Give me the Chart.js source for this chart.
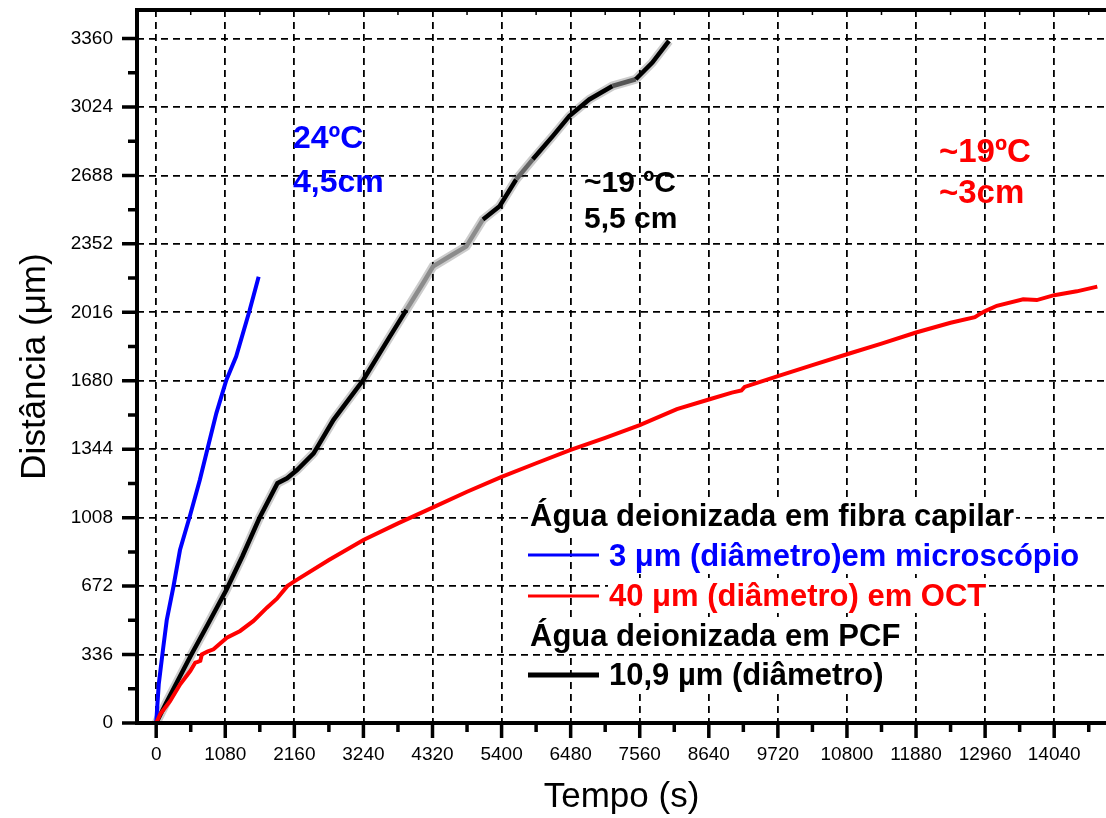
<!DOCTYPE html>
<html>
<head>
<meta charset="utf-8">
<script src="https://cdn.jsdelivr.net/npm/chart.js@4/dist/chart.umd.min.js"></script>
<style>
  html, body { margin: 0; padding: 0; background: #fff; overflow: hidden; }
  canvas { display: block; }
</style>
</head>
<body>
<canvas id="c" width="1106" height="818"></canvas>
<script>
// Time (s) and distance (µm) for each capillary-filling measurement
const blueTime = [0, 40, 110, 165, 270, 372, 527, 682, 785, 940, 1096, 1250, 1457, 1602];
const blueDist = [0, 190, 370, 505, 670, 849, 1016, 1193, 1324, 1520, 1683, 1799, 2021, 2191];

const redTime = [0, 62, 219, 375, 532, 610, 650, 690, 714, 800, 896, 1000, 1105, 1313, 1521, 1731, 1887, 2050, 2160,
  2700, 3240, 3780, 4320, 4860, 5400, 5940, 6480, 7020, 7560, 8141, 8640, 9000, 9150, 9200, 9720, 10260, 10800,
  11340, 11880, 12420, 12800, 12900, 12960, 13143, 13555, 13769, 14040, 14394, 14714];
const redDist = [0, 43, 108, 190, 255, 296, 300, 305, 337, 350, 362, 390, 419, 452, 501, 566, 610, 672, 695,
  800, 898, 980, 1057, 1135, 1208, 1275, 1341, 1400, 1462, 1541, 1588, 1622, 1632, 1650, 1703, 1757, 1810,
  1862, 1917, 1965, 1992, 2012, 2022, 2048, 2080, 2076, 2100, 2119, 2142];

const blackTime = [0, 150, 300, 550, 800, 1096, 1350, 1612, 1896, 2046, 2202, 2461, 2772, 3240, 3655, 3914, 4174,
  4330, 4590, 4849, 5109, 5369, 5628, 5888, 6200, 6459, 6771, 7134, 7498, 7757, 8017];
const blackDist = [0, 95, 185, 336, 480, 653, 820, 1005, 1177, 1201, 1242, 1324, 1488, 1685, 1898, 2029, 2160,
  2242, 2291, 2340, 2472, 2537, 2668, 2767, 2881, 2979, 3061, 3127, 3160, 3242, 3348];

// Axis ticks
const xTickValues = [0, 1080, 2160, 3240, 4320, 5400, 6480, 7560, 8640, 9720, 10800, 11880, 12960, 14040];
const xTickLabels = ['0', '1080', '2160', '3240', '4320', '5400', '6480', '7560', '8640', '9720', '10800', '11880', '12960', '14040'];
const yTickValues = [0, 336, 672, 1008, 1344, 1680, 2016, 2352, 2688, 3024, 3360];
const yTickLabels = ['0', '336', '672', '1008', '1344', '1680', '2016', '2352', '2688', '3024', '3360'];

// Legend rows and text labels
const legendRows = [
  { text: 'Água deionizada em fibra capilar', color: '#000000', sample: null },
  { text: '3 μm (diâmetro)em microscópio', color: '#0000ff', sample: 3 },
  { text: '40 μm (diâmetro) em OCT', color: '#ff0000', sample: 3 },
  { text: 'Água deionizada em PCF', color: '#000000', sample: null },
  { text: '10,9 µm (diâmetro)', color: '#000000', sample: 5 }
];
const notes = [
  { lines: ['24ºC', '4,5cm'], color: '#0000ff' },
  { lines: ['~19 ºC', '5,5 cm'], color: '#000000' },
  { lines: ['~19ºC', '~3cm'], color: '#ff0000' }
];

const FONT = '"Liberation Sans", Arial, Helvetica, sans-serif';
const pts = (t, d) => t.map((v, i) => ({ x: v, y: d[i] }));

// Grey, washed-out stretches of the PCF trace
const greyStretches = [[3850, 4850, '#8c8c8c'], [5550, 5800, '#666666'], [6900, 7200, '#555555']];

const decorations = {
  id: 'decorations',
  afterDatasetsDraw(chart) {
    const ctx = chart.ctx;
    ctx.save();
    // text notes
    const notePos = [
      { x: 293, y: [148, 192], size: 32 },
      { x: 584, y: [192, 228], size: 30 },
      { x: 939, y: [162, 203], size: 33 }
    ];
    notes.forEach((n, k) => {
      const p = notePos[k];
      ctx.font = 'bold ' + p.size + 'px ' + FONT;
      ctx.fillStyle = n.color;
      ctx.textAlign = 'left';
      ctx.textBaseline = 'alphabetic';
      n.lines.forEach((s, j) => ctx.fillText(s, p.x, p.y[j]));
    });
    // legend
    const baselines = [526, 566, 606, 646, 685];
    const sampleY = [0, 555, 596, 0, 675];
    ctx.font = 'bold 31px ' + FONT;
    legendRows.forEach((r, i) => {
      const tx = r.sample ? 609 : 530;
      const w = ctx.measureText(r.text).width;
      ctx.fillStyle = '#ffffff';
      ctx.fillRect(tx - 1, baselines[i] - 28, w + 3, 35);
      if (r.sample) {
        ctx.strokeStyle = r.color;
        ctx.lineWidth = r.sample;
        ctx.setLineDash([]);
        ctx.beginPath();
        ctx.moveTo(528, sampleY[i]);
        ctx.lineTo(599, sampleY[i]);
        ctx.stroke();
      }
      ctx.fillStyle = r.color;
      ctx.textAlign = 'left';
      ctx.textBaseline = 'alphabetic';
      ctx.fillText(r.text, tx, baselines[i]);
    });
    ctx.restore();
  },
  afterDraw(chart) {
    const { ctx, chartArea: a, scales: { x, y } } = chart;
    ctx.save();
    ctx.strokeStyle = '#000';
    ctx.setLineDash([]);
    ctx.lineCap = 'butt';
    // frame: left, bottom and top edges
    ctx.lineWidth = 4;
    ctx.beginPath();
    ctx.moveTo(a.left, a.top - 2);
    ctx.lineTo(a.left, a.bottom + 2);
    ctx.moveTo(a.left - 2, a.bottom);
    ctx.lineTo(a.right, a.bottom);
    ctx.moveTo(a.left - 2, a.top);
    ctx.lineTo(a.right, a.top);
    ctx.stroke();
    // tick marks
    ctx.lineWidth = 3.5;
    ctx.beginPath();
    const xmax = x.max, ymax = y.max;
    for (let v = 0; v <= xmax; v += 540) {
      const px = x.getPixelForValue(v);
      const major = (v % 1080) === 0;
      ctx.moveTo(px, a.bottom);
      ctx.lineTo(px, a.bottom + (major ? 15 : 9));
    }
    for (let v = 0; v <= ymax; v += 168) {
      const py = y.getPixelForValue(v);
      const major = (v % 336) === 0;
      ctx.moveTo(a.left, py);
      ctx.lineTo(a.left - (major ? 15 : 9), py);
    }
    ctx.stroke();
    // small inward marks on the top edge
    ctx.lineWidth = 1.5;
    ctx.beginPath();
    for (let v = 540; v <= xmax; v += 1080) {
      const px = x.getPixelForValue(v);
      ctx.moveTo(px, a.top);
      ctx.lineTo(px, a.top + 5);
    }
    ctx.stroke();
    ctx.restore();
  }
};

const noEdgePadding = s => {
  s.paddingTop = 0; s.paddingBottom = 0; s.paddingLeft = 0; s.paddingRight = 0;
};

new Chart(document.getElementById('c'), {
  type: 'line',
  data: {
    datasets: [
      {
        data: pts(redTime, redDist),
        borderColor: '#ff0000',
        borderWidth: 4,
        pointRadius: 0,
        tension: 0
      },
      {
        data: pts(blueTime, blueDist),
        borderColor: '#0000ff',
        borderWidth: 4,
        pointRadius: 0,
        tension: 0
      },
      {
        data: pts(blackTime, blackDist),
        borderColor: '#000000',
        borderWidth: 4.5,
        pointRadius: 0,
        tension: 0,
        segment: {
          borderColor: c => {
            const t = c.p0.parsed.x;
            for (const s of greyStretches) if (t >= s[0] && t < s[1]) return s[2];
            return '#000000';
          }
        }
      },
      {
        data: pts(blackTime, blackDist),
        borderColor: 'rgba(0,0,0,0.2)',
        borderWidth: 9,
        pointRadius: 0,
        tension: 0
      }
    ]
  },
  options: {
    responsive: false,
    animation: false,
    events: [],
    layout: { padding: { left: 0, right: 0, top: 10, bottom: 0 } },
    plugins: { legend: { display: false }, tooltip: { enabled: false } },
    scales: {
      x: {
        type: 'linear',
        min: -300,
        max: 14850,
        afterBuildTicks: s => { s.ticks = xTickValues.map(v => ({ value: v })); },
        afterFit: s => { s.height = 95; noEdgePadding(s); },
        grid: { color: '#000', lineWidth: 1.8, drawTicks: false },
        border: { display: false, dash: [7, 5] },
        ticks: {
          color: '#000',
          font: { family: FONT, size: 19, lineHeight: 1.2 },
          padding: 20,
          maxRotation: 0,
          autoSkip: false,
          callback: (v, i) => xTickLabels[i]
        },
        title: {
          display: true,
          text: 'Tempo (s)',
          color: '#000',
          font: { family: FONT, size: 35, lineHeight: 1.2 },
          padding: { top: 0, bottom: 0 }
        }
      },
      y: {
        type: 'linear',
        min: 0,
        max: 3500,
        afterBuildTicks: s => { s.ticks = yTickValues.map(v => ({ value: v })); },
        afterFit: s => { s.width = 137; noEdgePadding(s); },
        grid: { color: '#000', lineWidth: 1.8, drawTicks: false },
        border: { display: false, dash: [7, 5] },
        ticks: {
          color: '#000',
          font: { family: FONT, size: 19, lineHeight: 1 },
          padding: 24,
          autoSkip: false,
          callback: (v, i) => yTickLabels[i]
        },
        title: {
          display: true,
          text: 'Distância (μm)',
          color: '#000',
          font: { family: FONT, size: 35, lineHeight: 1.2 },
          padding: { top: 14, bottom: 0 }
        }
      }
    }
  },
  plugins: [decorations]
});
</script>
</body>
</html>
